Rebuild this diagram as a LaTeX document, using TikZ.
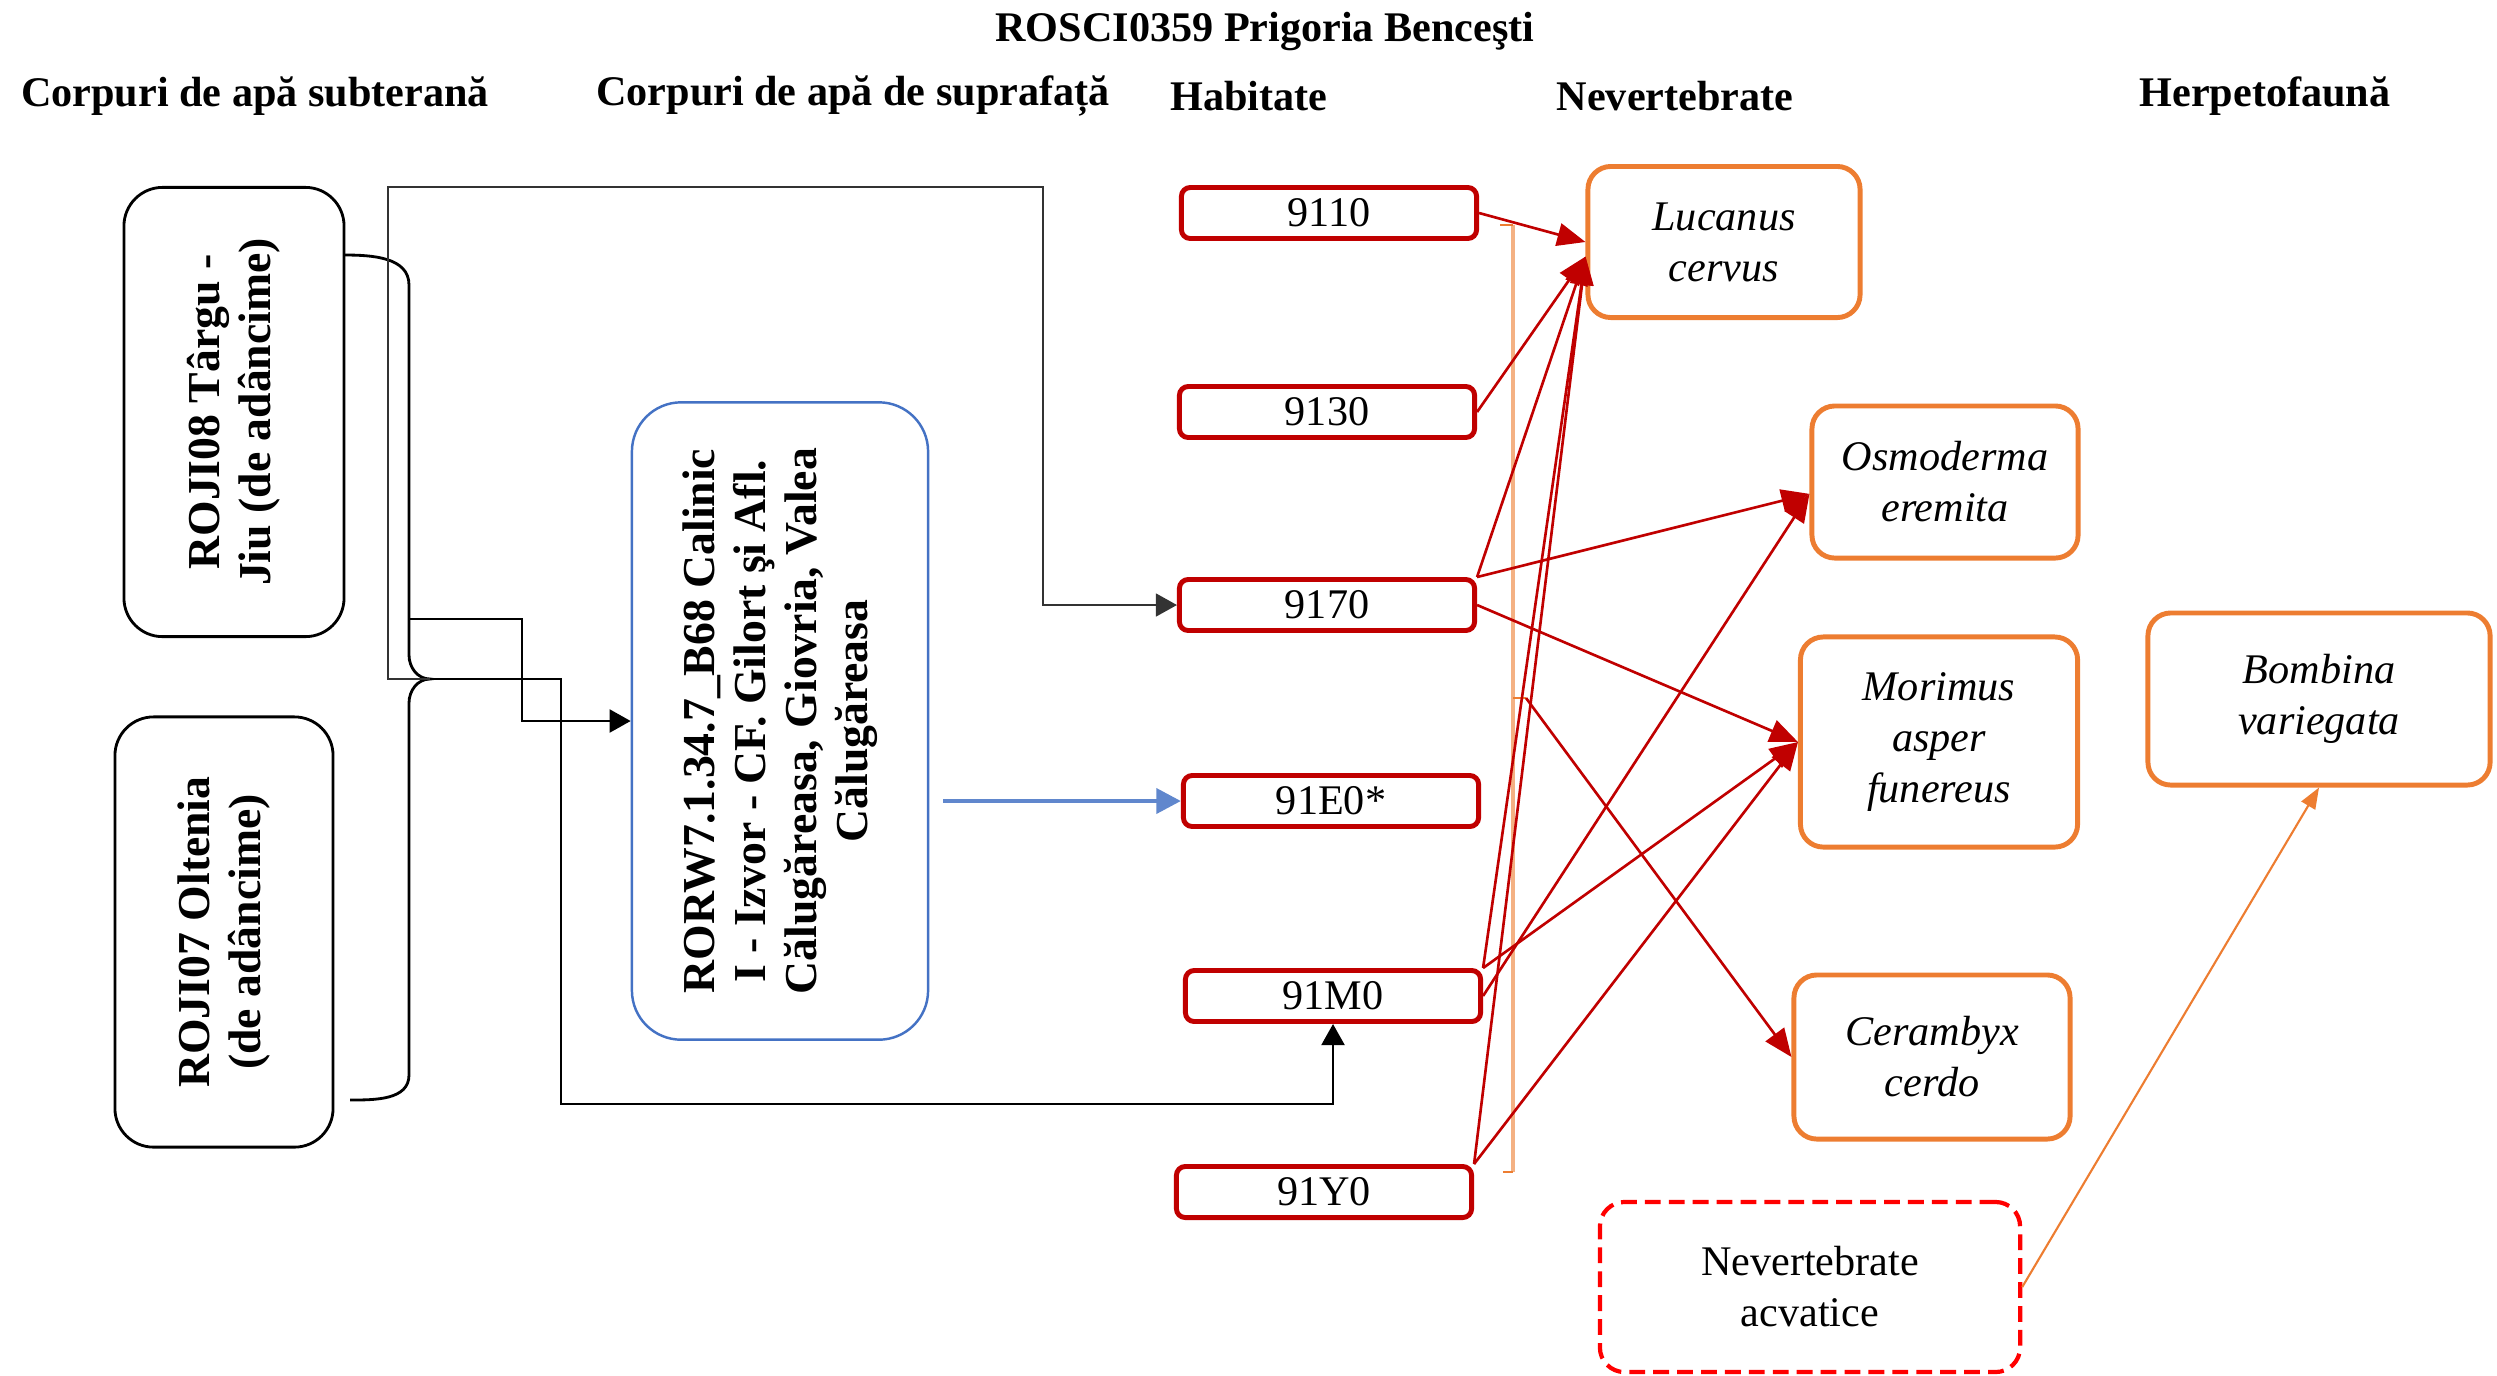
\documentclass[tikz,border=0pt]{standalone}
\usepackage{fontspec}
\setmainfont{LiberationSerif}[Extension=.ttf, UprightFont=*-Regular, BoldFont=*-Bold,
    ItalicFont=*-Italic, BoldItalicFont=*-BoldItalic]
\usetikzlibrary{arrows.meta}
\definecolor{habred}{HTML}{C00000}
\definecolor{spporange}{HTML}{ED7D31}
\definecolor{paleorange}{HTML}{F4B183}
\definecolor{rwblue}{HTML}{4472C4}
\begin{document}
\begin{tikzpicture}[x=0.01cm, y=-0.01cm,
    head/.style={font=\bfseries\fontsize{12}{14}\selectfont},
    gwbox/.style={draw, line width=0.8pt, rounded corners=11pt, rotate=90, align=center,
        inner sep=0pt, font=\bfseries\fontsize{13}{14.5}\selectfont},
    habbox/.style={draw=habred, line width=1.4pt, rounded corners=2.5pt, inner sep=0pt,
        minimum width=2.95cm, minimum height=0.51cm, font=\fontsize{12}{14}\selectfont},
    sppbox/.style={draw=spporange, line width=1.4pt, rounded corners=6.5pt, align=center,
        inner sep=0pt, font=\itshape\fontsize{12}{14.5}\selectfont},
    link/.style={line width=0.8pt, -{Triangle[length=6pt,width=6.5pt]}},
    redlink/.style={habred, line width=0.75pt, -{Triangle[length=8pt,width=6.5pt]}}]
    \useasboundingbox (0,0) rectangle (2497,1375);

    % titles
    \node[head] (title) at (1265,32) {ROSCI0359 Prigoria Benceşti};
    \node[head] (hd1) at (255,96) {Corpuri de apă subterană};
    \node[head] (hd2) at (853,96) {Corpuri de apă de suprafață};
    \node[head] (hd3) at (1249,96) {Habitate};
    \node[head] (hd4) at (1675,96) {Nevertebrate};
    \node[head] (hd5) at (2265,96) {Herpetofaună};

    % water bodies
    \node[gwbox, minimum width=4.49cm, minimum height=2.20cm] (roji08) at (234,412)
        {ROJI08 Târgu -\\Jiu (de adâncime)};
    \node[gwbox, minimum width=4.30cm, minimum height=2.18cm] (roji07) at (224,932)
        {ROJI07 Oltenia\\(de adâncime)};
    \node[gwbox, draw=rwblue, line width=0.7pt, rounded corners=14pt,
        minimum width=6.37cm, minimum height=2.96cm] (rorw) at (780,721)
        {RORW7.1.34.7\_B68 Calinic\\I - Izvor - CF. Gilort şi Afl.\\Călugăreasa, Giovria, Valea\\Călugăreasa};

    % habitats
    \node[habbox] (h9110) at (1329,213) {9110};
    \node[habbox] (h9130) at (1327,412) {9130};
    \node[habbox] (h9170) at (1327,605) {9170};
    \node[habbox] (h91E0) at (1331,801) {91E0*};
    \node[habbox] (h91M0) at (1333,996) {91M0};
    \node[habbox] (h91Y0) at (1324,1192) {91Y0};

    % species
    \node[sppbox, minimum width=2.72cm, minimum height=1.51cm] (lucanus) at (1724,242) {Lucanus\\cervus};
    \node[sppbox, minimum width=2.66cm, minimum height=1.52cm] (osmoderma) at (1945,482) {Osmoderma\\eremita};
    \node[sppbox, minimum width=2.77cm, minimum height=2.10cm] (morimus) at (1939,742) {Morimus\\asper\\funereus};
    \node[sppbox, minimum width=2.76cm, minimum height=1.64cm] (cerambyx) at (1932,1057) {Cerambyx\\cerdo};
    \node[sppbox, minimum width=3.42cm, minimum height=1.72cm] (bombina) at (2319,699) {Bombina\\variegata};
    \node[sppbox, draw=red, line width=1.2pt, dash pattern=on 4.5pt off 2.3pt, rounded corners=7pt,
        font=\fontsize{12}{14.5}\selectfont, minimum width=4.20cm, minimum height=1.70cm] (acvatice) at (1810,1287)
        {Nevertebrate\\acvatice};

    % brace joining both groundwater bodies
    \coordinate (btip) at (430,679);
    \coordinate (b1) at (409,619);
    \draw[line width=0.8pt] (344,255) to[out=0,in=90] (409,285) -- (409,655)
        to[out=-90,in=180] (btip) to[out=180,in=90] (409,703) -- (409,1075)
        to[out=-90,in=0] (350,1100);

    \draw[link, black!80, line width=0.6pt] (btip) -| (388,187) -- (1043,187) |- (h9170.west);
    \draw[link] (b1) -- (522,619) |- (rorw.north);
    \draw[link] (btip) -- (561,679) -- (561,1104) -| (h91M0.south);
    \draw[rwblue!85, line width=1.4pt, -{Triangle[length=7pt,width=7pt]}] ([xshift=4pt]rorw.south |- h91E0.west) -- (h91E0.west);

    % bracket over all habitats
    \coordinate (otip) at (1526,698);
    \draw[paleorange, line width=1.4pt] (1513,225) -- (1513,1172);
    \draw[spporange, line width=0.6pt] (1500,225) -- (1513,225) (1503,1172) -- (1513,1172) (1513,698) -- (otip);

    % habitats -> invertebrates
    \draw[redlink] (h9110.east) -- (lucanus.west);
    \draw[redlink] (h9130.east) -- (lucanus.186);
    \draw[redlink] (h9170.north east) -- (lucanus.186);
    \draw[redlink] (h9170.north east) -- (osmoderma.185);
    \draw[redlink] (h9170.east) -- (morimus.west);
    \draw[redlink] (h91M0.north east) -- (lucanus.186);
    \draw[redlink] (h91M0.east) -- (osmoderma.185);
    \draw[redlink] (h91M0.north east) -- (morimus.west);
    \draw[redlink] (h91Y0.north east) -- (lucanus.186);
    \draw[redlink] (h91Y0.north east) -- (morimus.west);
    \draw[redlink] (otip) -- (cerambyx.west);

    \draw[spporange, line width=0.6pt, -{Triangle[length=6pt,width=4.5pt]}] (acvatice.east) -- (bombina.south);
\end{tikzpicture}
\end{document}
